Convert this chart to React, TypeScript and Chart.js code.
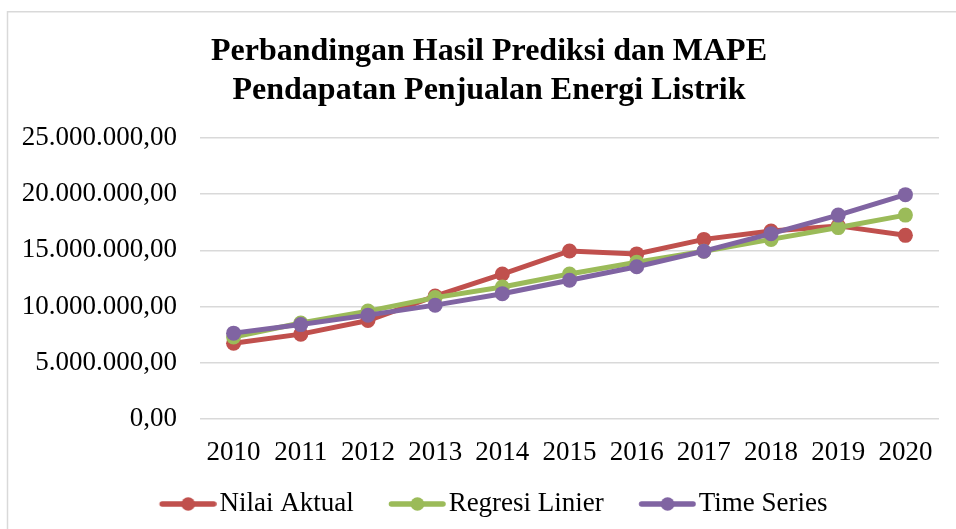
import React, { useEffect, useRef } from "react";
import { Chart, registerables } from "chart.js";

Chart.register(...registerables);

const years = ["2010", "2011", "2012", "2013", "2014", "2015", "2016", "2017", "2018", "2019", "2020"];
const nilaiAktual = [6740000, 7550000, 8760000, 10940000, 12900000, 14950000, 14690000, 15980000, 16730000, 17180000, 16340000];
const regresiLinier = [7300000, 8540000, 9600000, 10800000, 11750000, 12900000, 13940000, 14930000, 15980000, 17030000, 18140000];
const timeSeries = [7640000, 8400000, 9240000, 10130000, 11150000, 12350000, 13550000, 14930000, 16490000, 18140000, 19960000];
const seriesNames = ["Nilai Aktual", "Regresi Linier", "Time Series"];
const seriesColors = ["#C0504D", "#9BBB59", "#8064A2"];
const titleLines = ["Perbandingan Hasil Prediksi dan MAPE", "Pendapatan Penjualan Energi Listrik"];

const FONT = "'Liberation Serif', 'Times New Roman', serif";

function formatID(v: number): string {
  const neg = v < 0;
  const n = Math.abs(Math.round(v * 100));
  const intPart = Math.floor(n / 100).toString();
  const dec = (n % 100).toString().padStart(2, "0");
  const withDots = intPart.replace(/\B(?=(\d{3})+(?!\d))/g, ".");
  return (neg ? "-" : "") + withDots + "," + dec;
}

// legend marker image: transparent left part, line + dot on the right part
function legendMarker(color: string): HTMLCanvasElement {
  const c = document.createElement("canvas");
  c.width = 93;
  c.height = 18;
  const ctx = c.getContext("2d")!;
  ctx.strokeStyle = color;
  ctx.lineWidth = 5.5;
  ctx.lineCap = "round";
  ctx.beginPath();
  ctx.moveTo(38.5, 9);
  ctx.lineTo(90, 9);
  ctx.stroke();
  ctx.fillStyle = color;
  ctx.beginPath();
  ctx.arc(64.5, 9, 6.8, 0, Math.PI * 2);
  ctx.fill();
  return c;
}

const frame = {
  id: "frame",
  afterLayout(chart: any) {
    // the reference chart box extends past the right edge, so title and legend are centred further right
    if (chart.titleBlock) chart.titleBlock.left = 39;
    if (chart.legend) chart.legend.left = 23;
  },
  beforeDraw(chart: any) {
    const ctx = chart.ctx;
    ctx.save();
    ctx.fillStyle = "#ffffff";
    ctx.fillRect(0, 0, chart.width, chart.height);
    ctx.strokeStyle = "#d9d9d9";
    ctx.lineWidth = 1.5;
    ctx.beginPath();
    ctx.moveTo(7.5, chart.height);
    ctx.lineTo(7.5, 11.75);
    ctx.lineTo(chart.width, 11.75);
    ctx.stroke();
    ctx.restore();
  },
};

export default function App() {
  const ref = useRef<HTMLCanvasElement>(null);
  useEffect(() => {
    if (!ref.current) return;
    const data = [nilaiAktual, regresiLinier, timeSeries];
    const markers = seriesColors.map(legendMarker);
    const chart = new Chart(ref.current, {
      type: "line",
      data: {
        labels: years,
        datasets: data.map((d, i) => ({
          label: seriesNames[i],
          data: d,
          borderColor: seriesColors[i],
          backgroundColor: seriesColors[i],
          borderWidth: 5,
          pointRadius: 7.5,
          pointHoverRadius: 7.5,
          pointBorderWidth: 0,
          pointBackgroundColor: seriesColors[i],
          tension: 0,
          order: 2 - i,
        })),
      },
      options: {
        animation: false,
        responsive: false,
        devicePixelRatio: 1,
        layout: { padding: { left: 0, right: 17, top: 0, bottom: 1.5 } },
        plugins: {
          tooltip: { enabled: false },
          title: {
            display: true,
            text: titleLines,
            color: "#000",
            font: { family: FONT, size: 32, weight: "bold", lineHeight: 1.2 },
            padding: { top: 33, bottom: 28.2 },
          },
          legend: {
            position: "bottom",
            labels: {
              usePointStyle: true,
              pointStyleWidth: 71.5,
              padding: 10,
              color: "#000",
              font: { family: FONT, size: 27 },
              generateLabels: () =>
                seriesNames.map((n, i) => ({
                  text: n,
                  pointStyle: markers[i],
                  fillStyle: seriesColors[i],
                  strokeStyle: seriesColors[i],
                  lineWidth: 0,
                  hidden: false,
                  datasetIndex: i,
                })),
            },
          },
        },
        scales: {
          x: {
            offset: true,
            grid: { display: false, drawTicks: false },
            border: { display: false },
            ticks: { color: "#000", font: { family: FONT, size: 27 }, padding: 17.5, maxRotation: 0, autoSkip: false },
            afterFit: (s: any) => {
              s.height = 61.5;
            },
          },
          y: {
            min: 0,
            max: 25000000,
            grid: { color: "#d9d9d9", lineWidth: 1.5, drawTicks: false },
            border: { display: false },
            ticks: {
              stepSize: 5000000,
              color: "#000",
              font: { family: FONT, size: 27 },
              padding: 23,
              callback: (v: any) => formatID(Number(v)),
            },
            afterFit: (s: any) => {
              s.width = 200;
            },
          },
        },
      },
      plugins: [frame],
    });
    return () => chart.destroy();
  }, []);
  return (
    <div style={{ position: "fixed", left: 0, top: 0, width: 956, height: 529 }}>
      <canvas ref={ref} width={956} height={529} style={{ width: 956, height: 529, display: "block" }} />
    </div>
  );
}
